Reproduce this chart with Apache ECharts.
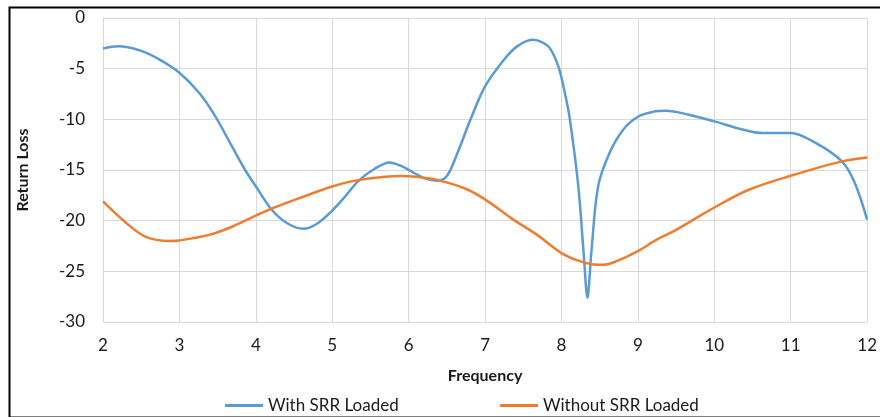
<!DOCTYPE html>
<html>
<head>
<meta charset="utf-8">
<script src="https://cdn.jsdelivr.net/npm/echarts@6/dist/echarts.min.js"></script>
<style>
html,body{margin:0;padding:0;background:#fff;}
#chart{width:880px;height:417px;}
</style>
</head>
<body>
<div id="chart"></div>
<script>
var seriesNames = ['With SRR Loaded', 'Without SRR Loaded'];
var withSRR = [
  [2.0,-3.0],[2.2,-2.8],[2.48,-3.2],[2.74,-4.1],[3.0,-5.4],[3.26,-7.4],[3.47,-9.7],
  [3.69,-12.7],[3.86,-15.0],[4.0,-16.6],[4.2,-18.85],[4.4,-20.2],[4.62,-20.8],[4.8,-20.3],
  [5.0,-19.0],[5.17,-17.6],[5.34,-16.1],[5.55,-14.9],[5.75,-14.25],[5.9,-14.6],[6.05,-15.2],
  [6.2,-15.8],[6.38,-16.05],[6.5,-15.6],[6.64,-13.3],[6.81,-10.0],[7.0,-6.75],[7.25,-4.1],
  [7.42,-2.8],[7.62,-2.15],[7.72,-2.3],[7.84,-2.9],[7.96,-4.8],[8.05,-7.6],[8.11,-10.0],
  [8.22,-16.6],[8.29,-23.2],[8.34,-27.6],[8.39,-23.2],[8.48,-16.6],[8.63,-13.3],[8.81,-11.0],
  [9.0,-9.75],[9.2,-9.25],[9.37,-9.15],[9.67,-9.55],[10.0,-10.2],[10.37,-11.0],[10.63,-11.35],
  [11.0,-11.35],[11.32,-12.3],[11.67,-14.15],[11.84,-16.3],[12.0,-19.9]
];
var withoutSRR = [
  [2.0,-18.1],[2.3,-20.2],[2.56,-21.6],[2.87,-22.0],[3.0,-21.95],[3.39,-21.4],[3.69,-20.6],
  [4.0,-19.5],[4.21,-18.8],[4.56,-17.8],[5.01,-16.6],[5.34,-16.0],[5.9,-15.6],[6.12,-15.7],
  [6.38,-16.0],[6.73,-16.8],[7.0,-17.9],[7.35,-19.8],[7.68,-21.4],[8.0,-23.2],[8.2,-23.9],
  [8.4,-24.3],[8.55,-24.35],[8.72,-24.0],[9.0,-23.0],[9.24,-21.9],[9.5,-20.9],[10.0,-18.7],
  [10.45,-16.95],[11.0,-15.57],[11.67,-14.15],[12.0,-13.76]
];
var xTicks = [2,3,4,5,6,7,8,9,10,11,12];
var yTicks = [-30,-25,-20,-15,-10,-5,0];

var FONT = 'Lato, "Open Sans", sans-serif';
var chart = echarts.init(document.getElementById('chart'), null, {renderer:'canvas'});
chart.setOption({
  animation: false,
  backgroundColor: '#fff',
  graphic: [{
    type: 'rect', left: 7, top: 5, silent: true,
    shape: {x: 0, y: 0, width: 880, height: 410},
    style: {fill: 'none', stroke: '#000', lineWidth: 2}
  }],
  grid: {left: 103, right: 8, top: 18, bottom: 95},
  legend: [{
    data: [seriesNames[0]], left: 225, top: 397, padding: 0,
    itemWidth: 38, itemHeight: 3, icon: 'rect',
    textStyle: {fontFamily: FONT, fontSize: 17, color: '#1a1a1a'}
  },{
    data: [seriesNames[1]], left: 500, top: 397, padding: 0,
    itemWidth: 38, itemHeight: 3, icon: 'rect',
    textStyle: {fontFamily: FONT, fontSize: 17, color: '#1a1a1a'}
  }],
  xAxis: {
    type: 'value', min: xTicks[0], max: xTicks[xTicks.length-1], interval: 1,
    name: 'Frequency', nameLocation: 'middle', nameGap: 46,
    nameTextStyle: {fontFamily: FONT, fontSize: 16, fontWeight: 'bold', color: '#1a1a1a'},
    axisLine: {show: true, lineStyle: {color: '#d9d9d9', width: 1}},
    axisTick: {show: false},
    axisLabel: {fontFamily: FONT, fontSize: 17, color: '#1a1a1a', margin: 15},
    splitLine: {show: true, lineStyle: {color: '#d9d9d9', width: 1}}
  },
  yAxis: {
    type: 'value', min: yTicks[0], max: yTicks[yTicks.length-1], interval: 5,
    name: 'Return Loss', nameLocation: 'middle', nameGap: 72, nameRotate: 90,
    nameTextStyle: {fontFamily: FONT, fontSize: 16, fontWeight: 'bold', color: '#1a1a1a'},
    axisLine: {show: true, lineStyle: {color: '#d9d9d9', width: 1}},
    axisTick: {show: false},
    axisLabel: {fontFamily: FONT, fontSize: 17, color: '#1a1a1a', margin: 18},
    splitLine: {show: true, lineStyle: {color: '#d9d9d9', width: 1}}
  },
  series: [{
    name: seriesNames[0], type: 'line', data: withSRR, smooth: 0.33,
    showSymbol: false, symbol: 'none',
    lineStyle: {color: '#5B9BD5', width: 2.5}, itemStyle: {color: '#5B9BD5'}
  },{
    name: seriesNames[1], type: 'line', data: withoutSRR, smooth: 0.33,
    showSymbol: false, symbol: 'none',
    lineStyle: {color: '#ED7D31', width: 2.5}, itemStyle: {color: '#ED7D31'}
  }]
});
</script>
</body>
</html>
